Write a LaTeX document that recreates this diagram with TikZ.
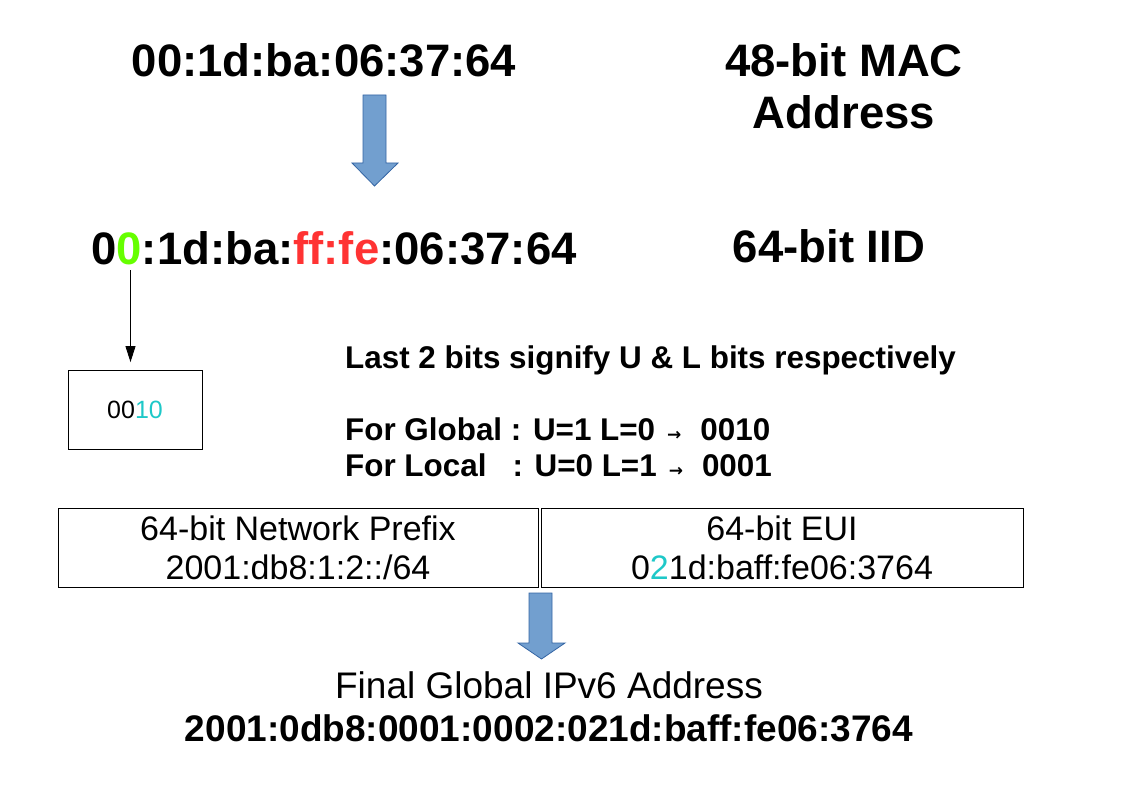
\documentclass[tikz,border=0pt]{standalone}
\usepackage{fontspec}
\setmainfont{Liberation Sans}
\newfontfamily\arrowfont{DejaVu Sans}
\usetikzlibrary{arrows.meta}
\definecolor{bitgreen}{HTML}{66FF00}
\definecolor{bitred}{HTML}{FF3333}
\definecolor{bitcyan}{HTML}{1EC8C8}
\definecolor{fatfill}{HTML}{729FCF}
\definecolor{fatline}{HTML}{3465A4}
\newcommand{\ra}{{\arrowfont\fontsize{17}{17}\selectfont →}}

\begin{document}
\begin{tikzpicture}[x=1pt,y=-1pt,
	big/.style={inner sep=0,font=\fontsize{45.5}{52}\selectfont\bfseries},
	note/.style={inner sep=0,align=left,font=\fontsize{31.4}{36}\selectfont\bfseries},
	fin/.style={inner sep=0,font=\fontsize{37}{43}\selectfont},
	fat/.style={fill=fatfill,draw=fatline,line width=0.8pt},
	box/.style={draw,line width=0.8pt,inner sep=0,align=center,minimum height=79pt,font=\fontsize{34}{39}\selectfont}]
	\useasboundingbox (0,0) rectangle (1123,794);
	% top: MAC and IID
	\node[big,anchor=base] (mac) at (324,77) {00:1d:ba:06:37:64};
	\node[big,anchor=base,align=center] (macl) at (844,129) {48-bit MAC\\Address};
	\fill[fat] (363,95) -- (386,95) -- (386,163) -- (398,163) -- (374.5,186) -- (352,163) -- (363,163) -- cycle;
	\node[big,anchor=base] (iid) at (334,264) {0{\color{bitgreen}0}:1d:ba:{\color{bitred}ff:fe}:06:37:64};
	\node[big,anchor=base] (iidl) at (829,262) {64-bit IID};
	% U/L bits
	\coordinate (z) at (130.5,270);
	\node[draw,line width=0.8pt,minimum width=134pt,minimum height=79pt,inner sep=0,font=\fontsize{25}{30}\selectfont] (bits) at (135,410) {00{\color{bitcyan}10}};
	\draw[line width=0.8pt,-{Triangle[length=16pt,width=10pt]},shorten >=8pt] (z) -- (z |- bits.north);
	\node[note,anchor=base west] (ul) at (345,476) {Last 2 bits signify U \& L bits respectively\\[36pt]
		For Global : U=1 L=0\hspace{12pt}\ra\hspace{19pt}0010\\
		For Local\hspace{26pt}: U=0 L=1\hspace{12pt}\ra\hspace{19pt}0001};
	% prefix + EUI
	\node[box,minimum width=480pt] (pre) at (298,547.5) {64-bit Network Prefix\\2001:db8:1:2::/64};
	\node[box,minimum width=482pt] (eui) at (782,547.5) {64-bit EUI\\0{\color{bitcyan}2}1d:baff:fe06:3764};
	\fill[fat] (529,593) -- (552,593) -- (552,643) -- (565,643) -- (541.5,659) -- (518,643) -- (529,643) -- cycle;
	\node[fin,anchor=base] (finl) at (549,698) {Final Global IPv6 Address};
	\node[fin,anchor=base,font=\fontsize{37}{43}\selectfont\bfseries] (ipv6) at (549,741) {2001:0db8:0001:0002:021d:baff:fe06:3764};
\end{tikzpicture}
\end{document}
